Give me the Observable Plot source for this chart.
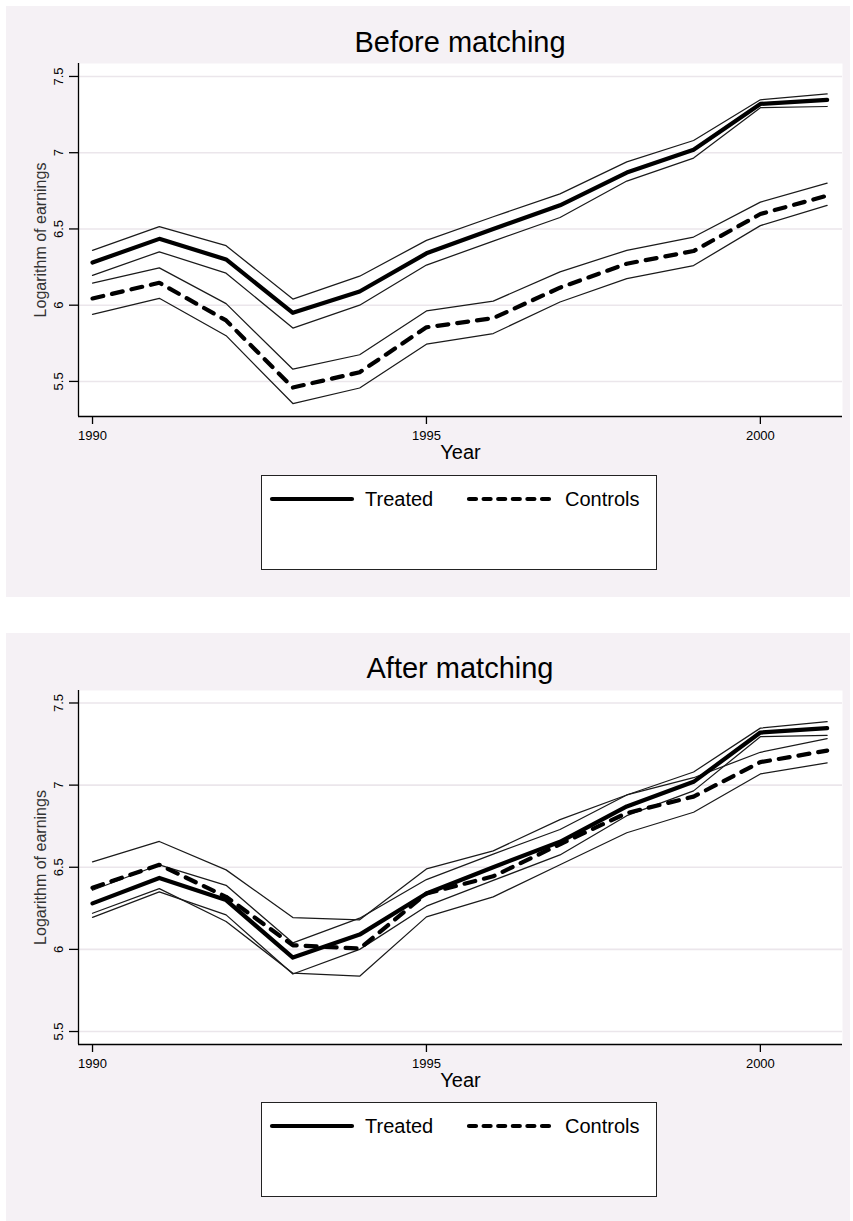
<!DOCTYPE html>
<html><head><meta charset="utf-8">
<script src="https://cdn.jsdelivr.net/npm/d3@7"></script>
<script src="https://cdn.jsdelivr.net/npm/@observablehq/plot@0.6"></script>
<style>
body{margin:0;background:#fff;font-family:"Liberation Sans",Arial,sans-serif;}
#page{position:relative;width:853px;height:1221px;overflow:hidden;}
.panel{position:absolute;left:6px;width:844px;background:#f5f1f5;}
.title{position:absolute;left:0;width:920px;text-align:center;font-size:29px;line-height:29px;color:#000;white-space:nowrap;}
.chart{position:absolute;left:0;}
.legend{position:absolute;left:261px;width:396px;height:95px;background:#fff;border:1px solid #222;box-sizing:border-box;}
.legend svg{position:absolute;left:0;top:0;}
</style>
</head><body><div id="page"></div>
<script>
const years = [1990,1991,1992,1993,1994,1995,1996,1997,1998,1999,2000,2001];

const treatedMean  = [6.28, 6.435, 6.30, 5.95, 6.09, 6.34, 6.50, 6.655, 6.87, 7.02, 7.32, 7.347];
const treatedUpper = [6.36, 6.515, 6.39, 6.04, 6.19, 6.425, 6.58, 6.73, 6.94, 7.08, 7.347, 7.386];
const treatedLower = [6.195, 6.35, 6.21, 5.85, 6.00, 6.263, 6.42, 6.575, 6.814, 6.965, 7.295, 7.303];

const controlsBeforeMean  = [6.044, 6.147, 5.90, 5.46, 5.56, 5.855, 5.915, 6.115, 6.272, 6.355, 6.598, 6.718];
const controlsBeforeUpper = [6.145, 6.245, 6.01, 5.58, 5.675, 5.962, 6.027, 6.218, 6.36, 6.447, 6.676, 6.80];
const controlsBeforeLower = [5.94, 6.045, 5.80, 5.355, 5.457, 5.744, 5.814, 6.021, 6.174, 6.26, 6.522, 6.655];

const controlsAfterMean  = [6.375, 6.515, 6.32, 6.025, 6.005, 6.34, 6.445, 6.64, 6.83, 6.93, 7.14, 7.21];
const controlsAfterUpper = [6.533, 6.657, 6.484, 6.194, 6.18, 6.49, 6.60, 6.79, 6.94, 7.045, 7.20, 7.283];
const controlsAfterLower = [6.22, 6.37, 6.17, 5.855, 5.837, 6.198, 6.32, 6.515, 6.71, 6.835, 7.068, 7.135];

const xTicks = [1990, 1995, 2000];
const yTicks = [5.5, 6, 6.5, 7, 7.5];
const panelTitles = ["Before matching", "After matching"];
const xLabel = "Year";
const yLabel = "Logarithm of earnings";
const legendLabels = ["Treated", "Controls"];

const xDomain = [1989.79, 2001.23];
const FONT = "'Liberation Sans', Arial, sans-serif";

function rows(series, values) {
  return years.map((year, i) => ({year, value: values[i], series}));
}

function makeChart(cMean, cUpper, cLower, yDomain, height) {
  const ci = [
    ...rows("tU", treatedUpper), ...rows("tL", treatedLower),
    ...rows("cU", cUpper), ...rows("cL", cLower)
  ];
  return Plot.plot({
    width: 853, height,
    marginLeft: 78, marginRight: 11, marginTop: 13, marginBottom: 40,
    style: {background: "transparent", fontFamily: FONT, fontSize: "13px", overflow: "visible", color: "#000"},
    x: {domain: xDomain},
    y: {domain: yDomain},
    marks: [
      Plot.frame({fill: "white", stroke: "none"}),
      Plot.gridY(yTicks, {stroke: "#ebe6eb", strokeOpacity: 1, strokeWidth: 1.6}),
      Plot.line(ci, {x: "year", y: "value", z: "series", stroke: "#1a1a1a", strokeWidth: 1.25}),
      Plot.line(rows("t", treatedMean), {x: "year", y: "value", stroke: "#000", strokeWidth: 4.2}),
      Plot.line(rows("c", cMean), {x: "year", y: "value", stroke: "#000", strokeWidth: 4.2, strokeDasharray: "11,9"}),
      Plot.ruleX([xDomain[0]], {stroke: "#000", strokeWidth: 1.3}),
      Plot.ruleY([yDomain[0]], {stroke: "#000", strokeWidth: 1.3}),
      Plot.axisX(xTicks, {tickSize: 8, tickPadding: 6, fontSize: 13, tickFormat: d => String(d), label: null, strokeWidth: 1.3}),
      Plot.axisY(yTicks, {tickSize: 9, tickPadding: 7, tickRotate: -90, fontSize: 13, tickFormat: d => String(d), label: null, strokeWidth: 1.3}),
      Plot.text([yLabel], {text: d => d, frameAnchor: "left", rotate: -90, dx: -38, textAnchor: "middle", lineAnchor: "middle", fontSize: 16, fill: "#333"}),
      Plot.text([xLabel], {text: d => d, frameAnchor: "bottom", dy: 36, textAnchor: "middle", lineAnchor: "middle", fontSize: 20})
    ]
  });
}

function makeLegend(top) {
  const div = document.createElement("div");
  div.className = "legend";
  div.style.top = top + "px";
  const svg = d3.create("svg").attr("width", 396).attr("height", 95).attr("font-family", FONT);
  const ly = 23;
  svg.append("line").attr("x1", 10).attr("x2", 90).attr("y1", ly).attr("y2", ly)
    .attr("stroke", "#000").attr("stroke-width", 4.2).attr("stroke-linecap", "round");
  svg.append("text").attr("x", 103).attr("y", ly).attr("dy", "0.36em").attr("font-size", 20).text(legendLabels[0]);
  svg.append("line").attr("x1", 207).attr("x2", 288).attr("y1", ly).attr("y2", ly)
    .attr("stroke", "#000").attr("stroke-width", 4.2).attr("stroke-linecap", "round").attr("stroke-dasharray", "7,7.6");
  svg.append("text").attr("x", 303).attr("y", ly).attr("dy", "0.36em").attr("font-size", 20).text(legendLabels[1]);
  div.appendChild(svg.node());
  return div;
}

const page = document.getElementById("page");
const panels = [
  {bgTop: 6, bgH: 591, titleTop: 27.5, svgTop: 50, svgH: 406, yDomain: [5.27, 7.585], legendTop: 474.5,
   c: [controlsBeforeMean, controlsBeforeUpper, controlsBeforeLower]},
  {bgTop: 633, bgH: 588, titleTop: 654, svgTop: 677, svgH: 407, yDomain: [5.421, 7.576], legendTop: 1102,
   c: [controlsAfterMean, controlsAfterUpper, controlsAfterLower]}
];
panels.forEach((p, i) => {
  const bg = document.createElement("div");
  bg.className = "panel"; bg.style.top = p.bgTop + "px"; bg.style.height = p.bgH + "px";
  page.appendChild(bg);
  const t = document.createElement("div");
  t.className = "title"; t.style.top = p.titleTop + "px"; t.textContent = panelTitles[i];
  page.appendChild(t);
  const ch = makeChart(p.c[0], p.c[1], p.c[2], p.yDomain, p.svgH);
  ch.classList.add("chart"); ch.style.top = p.svgTop + "px";
  page.appendChild(ch);
  page.appendChild(makeLegend(p.legendTop));
});
</script>
</body></html>
